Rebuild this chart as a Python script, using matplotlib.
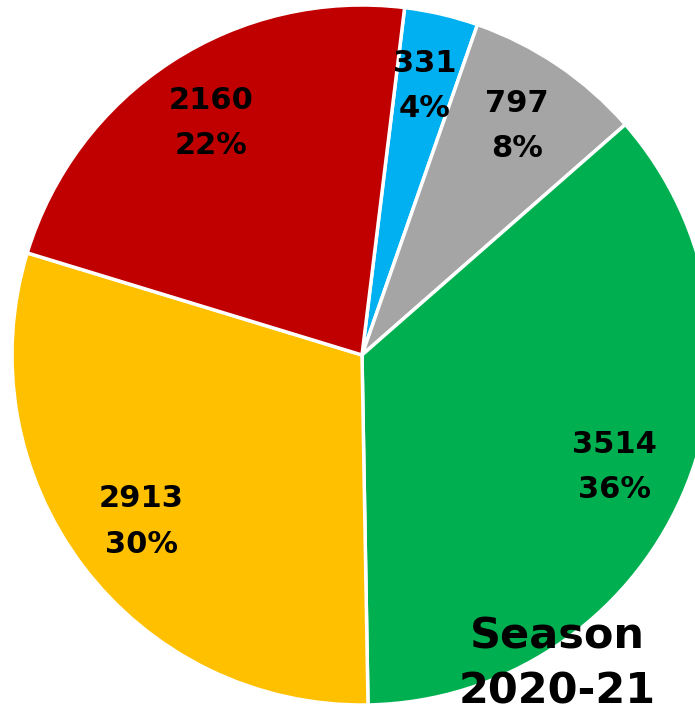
import matplotlib
matplotlib.use("Agg")
import matplotlib.pyplot as plt

# datos (orden horario desde arriba)
valores = [331, 797, 3514, 2913, 2160]
porcentajes = ["4%", "8%", "36%", "30%", "22%"]
colores = ["#00B0F0", "#A5A5A5", "#00B050", "#FFC000", "#C00000"]
titulo = "Season\n2020-21"


def main():
    fig = plt.figure(figsize=(6.95, 7.17), dpi=100)
    # el pastel queda algo recortado a la derecha, como en el original
    ax = fig.add_axes([12 / 695, 12 / 717, 700 / 695, 700 / 717])

    etiquetas = [f"{v}\n{p}" for v, p in zip(valores, porcentajes)]
    wedges, textos = ax.pie(
        valores,
        labels=etiquetas,
        colors=colores,
        startangle=83,
        counterclock=False,
        labeldistance=0.79,
        radius=1.0,
        wedgeprops=dict(edgecolor="white", linewidth=2.5),
        textprops=dict(fontsize=22, fontweight="bold", color="black",
                       ha="center", va="center", linespacing=1.7),
    )

    ax.set_xlim(-1, 1)
    ax.set_ylim(-1, 1)
    ax.set_aspect("equal")
    ax.axis("off")

    fig.text(557 / 695, 1 - 664 / 717, titulo, ha="center", va="center",
             fontsize=31, fontweight="bold", linespacing=1.4)

    fig.savefig("out.png", dpi=100)


if __name__ == "__main__":
    main()
